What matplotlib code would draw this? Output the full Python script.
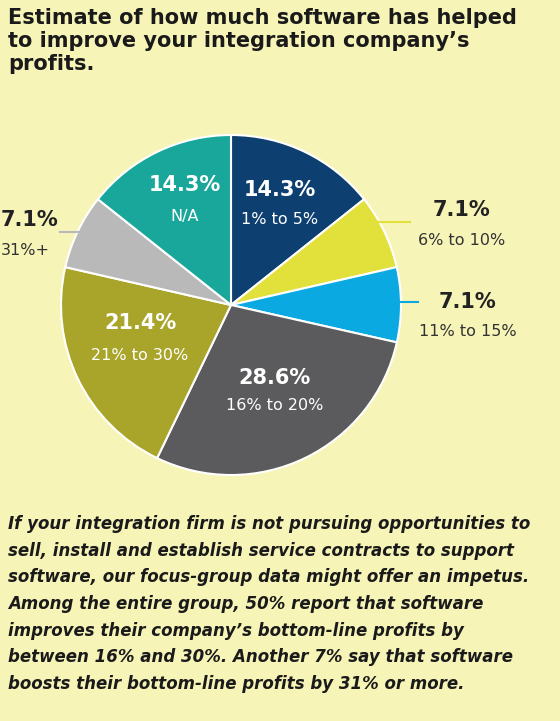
import matplotlib
matplotlib.use("Agg")
import matplotlib.pyplot as plt
import numpy as np

values = [14.3, 7.1, 7.1, 28.6, 21.4, 7.1, 14.3]
pct_labels = ["14.3%", "7.1%", "7.1%", "28.6%", "21.4%", "7.1%", "14.3%"]
cat_labels = ["1% to 5%", "6% to 10%", "11% to 15%", "16% to 20%", "21% to 30%", "31%+", "N/A"]
colors = ["#0D3F70", "#E2E03A", "#0AA9E1", "#5B5B5D", "#A9A42A", "#B9B9B9", "#1AA79B"]

bg = "#F7F4B8"
fig = plt.figure(figsize=(5.6, 7.21), dpi=100, facecolor=bg)
W, H = 560, 721
cx, cy, r = 231, 305, 170
ax = fig.add_axes([(cx - r) / W, 1 - (cy + r) / H, 2 * r / W, 2 * r / H])
ax.set_facecolor(bg)
wedges, _ = ax.pie(values, colors=colors, startangle=90, counterclock=False,
                   wedgeprops=dict(edgecolor="white", linewidth=1.5))
ax.set_xlim(-1, 1); ax.set_ylim(-1, 1); ax.set_aspect("equal"); ax.axis("off")

def to_fig(px, py):
    return px / W, 1 - py / H

inside = {0: (280, 190, 220), 3: (275, 378, 406), 4: (140, 323, 355), 6: (185, 185, 216)}
for i, (x, y1, y2) in inside.items():
    fig.text(*to_fig(x, y1), pct_labels[i], color="white", fontsize=15, fontweight="bold", ha="center", va="center")
    fig.text(*to_fig(x, y2), cat_labels[i], color="white", fontsize=11.5, ha="center", va="center")

outside = {1: (462, 210, 240, "#E2E03A", (367, 222), (410, 222), "center"),
           2: (468, 302, 332, "#0AA9E1", (395, 302), (418, 302), "center")}
for i, (x, y1, y2, lc, p1, p2, ha) in outside.items():
    fig.text(*to_fig(x, y1), pct_labels[i], color="#222222", fontsize=15, fontweight="bold", ha=ha, va="center")
    fig.text(*to_fig(x, y2), cat_labels[i], color="#333333", fontsize=11.5, ha=ha, va="center")
    fig.add_artist(plt.Line2D([p1[0] / W, p2[0] / W], [1 - p1[1] / H, 1 - p2[1] / H], color=lc, lw=1.5))

# left label (cropped in the reference; kept inside here)
fig.text(*to_fig(1, 220), pct_labels[5], color="#222222", fontsize=15, fontweight="bold", ha="left", va="center")
fig.text(*to_fig(1, 250), cat_labels[5], color="#333333", fontsize=11.5, ha="left", va="center")
fig.add_artist(plt.Line2D([60 / W, 103 / W], [1 - 232 / H, 1 - 232 / H], color="#B9B9B9", lw=1.5))

fig.text(8 / W, 1 - 8 / H, "Estimate of how much software has helped\nto improve your integration company’s\nprofits.",
         fontsize=15, fontweight="bold", color="#1a1a1a", ha="left", va="top", linespacing=1.2)

fig.text(8 / W, 1 - 515 / H,
         "If your integration firm is not pursuing opportunities to\n"
         "sell, install and establish service contracts to support\n"
         "software, our focus-group data might offer an impetus.\n"
         "Among the entire group, 50% report that software\n"
         "improves their company’s bottom-line profits by\n"
         "between 16% and 30%. Another 7% say that software\n"
         "boosts their bottom-line profits by 31% or more.",
         fontsize=12, fontstyle="italic", fontweight="bold", color="#1a1a1a", ha="left", va="top", linespacing=1.62)

fig.savefig("out.png", dpi=100, facecolor=bg)
